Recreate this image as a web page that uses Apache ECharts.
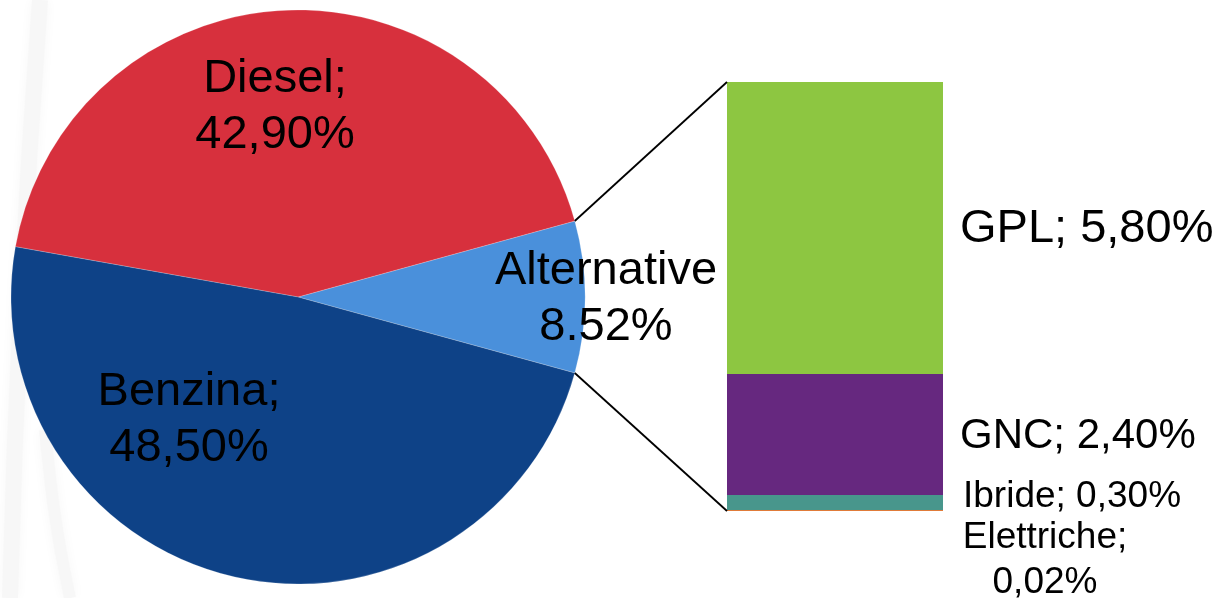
<!DOCTYPE html>
<html>
<head>
<meta charset="utf-8">
<script src="https://cdn.jsdelivr.net/npm/echarts@6/dist/echarts.min.js"></script>
<style>
html,body{margin:0;padding:0;background:#fff;}
#main{width:1222px;height:598px;}
</style>
</head>
<body>
<div id="main"></div>
<script>
// ---- data ----
var pieNames = ['Alternative', 'Diesel', 'Benzina'];
var pieValues = [8.52, 42.90, 48.50];
var barNames = ['Elettriche', 'Ibride', 'GNC', 'GPL'];   // bottom -> top
var barValues = [0.02, 0.30, 2.40, 5.80];

// ---- styles ----
var pieColors = ['#4A90DB', '#D7303D', '#0E4287'];
var barColors = ['#E07B39', '#48968C', '#66287F', '#8DC641'];
var FONT = '"Liberation Sans", Arial, sans-serif';

var pieCenter = [298, 297];
var pieRadius = 287;
var gridLeft = 727, gridTop = 82, gridWidth = 216, gridHeight = 429;

var pieSum = pieValues.reduce(function (a, b) { return a + b; }, 0);
var barSum = barValues.reduce(function (a, b) { return a + b; }, 0);
var altHalf = pieValues[0] / pieSum * 360 / 2;

function comma(v) { return v.toFixed(2).replace('.', ','); }

// label anchor positions for pie labels (block centres)
var pieLabelPos = [[606, 299], [275, 107], [189, 420]];

var chart = echarts.init(document.getElementById('main'), null, { renderer: 'canvas' });

var series = [{
  type: 'pie',
  center: pieCenter,
  radius: pieRadius,
  startAngle: -altHalf,
  clockwise: false,
  avoidLabelOverlap: false,
  silent: true,
  data: pieNames.map(function (n, i) {
    return { name: n, value: pieValues[i], itemStyle: { color: pieColors[i] } };
  }),
  itemStyle: { borderColor: 'rgba(255,255,255,0.4)', borderWidth: 0.5 },
  label: {
    show: true,
    position: 'inside',
    color: '#000',
    fontFamily: FONT,
    fontSize: 47,
    lineHeight: 56,
    align: 'center',
    formatter: function (p) {
      if (p.dataIndex === 0) return p.name + '\n' + p.value.toFixed(2) + '%';
      return p.name + ';\n' + comma(p.value) + '%';
    }
  },
  labelLayout: function (p) {
    var pos = pieLabelPos[p.dataIndex];
    return { x: pos[0], y: pos[1], align: 'center', verticalAlign: 'middle' };
  },
  labelLine: { show: false }
}];

var barLabelStyles = [
  { position: [318, 50], align: 'center', verticalAlign: 'middle', fontSize: 37, lineHeight: 45 },
  { position: 'right', distance: 20, offset: [0, -6], fontSize: 37 },
  { position: 'right', distance: 17, offset: [0, 2], fontSize: 42 },
  { position: 'right', distance: 17, offset: [0, 1], fontSize: 47 }
];

barNames.forEach(function (n, i) {
  var ls = barLabelStyles[i];
  var label = {
    show: true,
    color: '#000',
    fontFamily: FONT,
    fontSize: ls.fontSize,
    position: ls.position,
    formatter: function (p) {
      if (i === 0) return n + ';\n' + comma(p.value) + '%';
      return n + '; ' + comma(p.value) + '%';
    }
  };
  if (ls.distance !== undefined) label.distance = ls.distance;
  if (ls.offset) label.offset = ls.offset;
  if (ls.align) { label.align = ls.align; label.verticalAlign = ls.verticalAlign; }
  if (ls.lineHeight) label.lineHeight = ls.lineHeight;
  series.push({
    type: 'bar',
    name: n,
    stack: 'alt',
    barWidth: '100%',
    silent: true,
    itemStyle: { color: barColors[i] },
    label: label,
    data: [barValues[i]]
  });
});

chart.setOption({
  animation: false,
  backgroundColor: '#fff',
  grid: { left: gridLeft, top: gridTop, width: gridWidth, height: gridHeight },
  xAxis: { type: 'category', data: ['Alternative'], show: false },
  yAxis: { type: 'value', min: 0, max: barSum, show: false },
  series: series
});

// connector lines from the Alternative slice edges to the bar corners
var yTop = chart.convertToPixel({ yAxisIndex: 0 }, barSum);
var yBot = chart.convertToPixel({ yAxisIndex: 0 }, 0);
var a = altHalf * Math.PI / 180;
var p1 = [pieCenter[0] + pieRadius * Math.cos(a), pieCenter[1] - pieRadius * Math.sin(a)];
var p2 = [pieCenter[0] + pieRadius * Math.cos(a), pieCenter[1] + pieRadius * Math.sin(a)];
chart.setOption({
  graphic: [
    // faint background watermark bands
    { type: 'bezierCurve', z: -10, silent: true,
      shape: { x1: 40, y1: 0, x2: 10, y2: 598, cpx1: 25, cpy1: 200, cpx2: 15, cpy2: 400 },
      style: { stroke: '#f7f7f7', lineWidth: 16, fill: null, shadowBlur: 12, shadowColor: '#f7f7f7' } },
    { type: 'bezierCurve', z: -10, silent: true,
      shape: { x1: 70, y1: 598, x2: 45, y2: 430, cpx1: 55, cpy1: 530, cpx2: 50, cpy2: 480 },
      style: { stroke: '#f7f7f7', lineWidth: 12, fill: null, shadowBlur: 12, shadowColor: '#f7f7f7' } },
    { type: 'line', shape: { x1: p1[0], y1: p1[1], x2: gridLeft, y2: yTop }, style: { stroke: '#000', lineWidth: 1.8 }, z: 10 },
    { type: 'line', shape: { x1: p2[0], y1: p2[1], x2: gridLeft, y2: yBot }, style: { stroke: '#000', lineWidth: 1.8 }, z: 10 }
  ]
});
</script>
</body>
</html>
